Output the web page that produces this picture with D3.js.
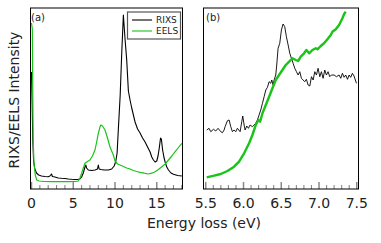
<!DOCTYPE html>
<html><head><meta charset="utf-8">
<script src="https://cdn.jsdelivr.net/npm/d3@7"></script>
<style>body{margin:0;background:#fff}svg{display:block}text{font-family:"DejaVu Sans",sans-serif;fill:#222}</style>
</head><body>
<script>
// Panel (a): [energy loss (eV), intensity (arb.)]
const rixsA = [[0.0,117],[0.08,85],[0.15,50],[0.25,28],[0.4,20],[0.6,16],[0.85,14],[1.2,13],[1.6,12.5],[2.0,12.3],[2.2,13],[2.4,15],[2.5,12.5],[2.8,12],[3.2,11],[3.6,10.7],[4.0,10.5],[4.4,10],[4.8,9.7],[5.2,9.5],[5.5,9.5],[5.8,10],[6.0,12],[6.2,16],[6.4,22],[6.5,24],[6.6,21],[6.8,19],[7.2,18.5],[7.6,19],[7.9,20],[8.0,24],[8.1,20],[8.3,19.5],[8.7,19],[9.2,19],[9.6,20],[9.9,23],[10.1,28],[10.25,36],[10.4,60],[10.62,94],[10.8,135],[11.0,174],[11.2,150],[11.4,129],[11.6,98],[11.8,89],[12.0,81],[12.2,74],[12.4,67],[12.7,60],[13.0,56],[13.3,51],[13.6,47],[13.9,42],[14.2,37],[14.4,32],[14.6,29],[14.8,27],[15.0,28],[15.15,33],[15.3,41],[15.45,51],[15.55,50],[15.7,39],[15.85,32],[16.0,27],[16.2,22],[16.4,19],[16.7,16],[17.0,14.7],[17.5,13.5],[18.0,13]];
const eelsA = [[0.0,166],[0.1,160],[0.15,100],[0.2,50],[0.3,25],[0.45,14],[0.63,9],[0.9,8],[1.5,7.5],[2.5,7.3],[3.5,7.3],[4.5,7.3],[5.3,7.5],[5.6,8],[5.8,11],[6.0,15.7],[6.2,21],[6.4,25.7],[6.7,27.5],[7.0,29],[7.3,33],[7.6,39],[7.8,47],[8.0,55.7],[8.2,62],[8.3,64],[8.5,63],[8.8,59],[9.1,51],[9.4,42],[9.8,34],[10.0,28],[10.3,25],[10.6,24],[11.0,22.5],[11.4,21],[11.8,20],[12.2,18.5],[12.6,17.5],[13.0,16.7],[13.5,15.8],[14.0,15],[14.4,15.8],[14.8,17.3],[15.2,19.5],[15.6,22.3],[16.0,25],[16.4,29],[16.8,33],[17.2,37.3],[17.6,41.5],[18.0,45.7]];
// Panel (b)
const rixsB = [[5.513,59],[5.544,60.7],[5.566,57.3],[5.602,59.7],[5.632,58],[5.663,60.7],[5.699,57.3],[5.721,56.3],[5.743,59],[5.756,62.3],[5.787,68.3],[5.809,69],[5.831,62.3],[5.853,57.3],[5.875,59],[5.897,57.3],[5.919,60.7],[5.955,57.3],[5.977,67.3],[5.99,73],[6.008,64],[6.021,59],[6.043,63],[6.065,60.7],[6.087,64],[6.118,62.3],[6.14,64],[6.162,65.7],[6.184,69],[6.206,74],[6.228,79],[6.251,85.7],[6.273,92.3],[6.295,99],[6.317,101.7],[6.339,107.3],[6.361,105.7],[6.374,109],[6.392,104],[6.405,109],[6.427,114],[6.44,124],[6.458,140.7],[6.48,145.7],[6.502,159],[6.524,165],[6.546,162.3],[6.568,152.3],[6.591,144],[6.613,135.7],[6.635,130.7],[6.657,125.7],[6.679,120.7],[6.701,117.3],[6.723,114],[6.745,117.3],[6.767,110.7],[6.789,109],[6.811,107.3],[6.833,109.7],[6.855,104],[6.878,103],[6.9,112.3],[6.922,109],[6.944,117.3],[6.966,114],[6.988,120.7],[7.01,112.3],[7.032,117.3],[7.054,110.7],[7.076,119],[7.098,114],[7.12,117.3],[7.142,112.3],[7.164,114],[7.2,114],[7.231,112.3],[7.266,114],[7.288,110.7],[7.31,115.7],[7.332,111.7],[7.354,114],[7.377,109.7],[7.399,114],[7.42,111.7],[7.442,115.7],[7.464,113],[7.496,105.7]];
const eelsB = [[5.513,11.7],[5.61,13.3],[5.699,15],[5.787,18],[5.875,22.3],[5.941,27.3],[6.008,35.7],[6.074,45.7],[6.118,54],[6.162,64],[6.198,69],[6.22,67.3],[6.251,75.7],[6.295,84],[6.339,92.3],[6.383,100.7],[6.427,109],[6.471,114],[6.515,119],[6.56,124],[6.604,127.3],[6.648,130.7],[6.692,129],[6.723,128],[6.758,132.3],[6.802,135.7],[6.833,139],[6.869,135.7],[6.913,139],[6.957,140.7],[6.979,139.7],[7.023,143],[7.067,145.7],[7.111,149.7],[7.156,154],[7.178,157.3],[7.222,159.7],[7.266,164],[7.31,170.7],[7.333,175],[7.354,177.3]];
const ticksA = [0,5,10,15];
const ticksB = [5.5,6.0,6.5,7.0,7.5];
const legendLabels = ["RIXS","EELS"];
const colors = {RIXS:"#000", EELS:"#19c419"};

const W=381,H=243;
const svg=d3.select("body").append("svg").attr("width",W).attr("height",H);
const pTop=8,pBottom=189;
const y=d3.scaleLinear().domain([0,181]).range([pBottom,pTop]);

function panel(id,x0,x1,dom,majors,minorStep,series,label,lbx,lby){
  const x=d3.scaleLinear().domain(dom).range([x0,x1]);
  const g=svg.append("g");
  g.append("clipPath").attr("id",id).append("rect").attr("x",x0).attr("y",pTop).attr("width",x1-x0).attr("height",pBottom-pTop);
  const isMajor=d=>majors.some(m=>Math.abs(m-d)<1e-6);
  const minors=d3.range(Math.ceil(dom[0]/minorStep-1e-9),Math.floor(dom[1]/minorStep+1e-9)+1).map(i=>+(i*minorStep).toFixed(4));
  g.selectAll(".mt").data(minors).enter().append("line")
    .attr("x1",d=>x(d)).attr("x2",d=>x(d)).attr("y1",pBottom).attr("y2",d=>isMajor(d)?pBottom-7:pBottom-4)
    .attr("stroke","#8a8a8a").attr("stroke-width",d=>isMajor(d)?1.5:1.1);
  g.selectAll(".tl").data(majors).enter().append("text")
    .attr("x",d=>x(d)).attr("y",208).attr("text-anchor","middle").attr("font-size",14)
    .text(d=>id==="ca"?d3.format("d")(d):d3.format(".1f")(d));
  const line=d3.line().x(d=>x(d[0])).y(d=>y(d[1]));
  const pg=g.append("g").attr("clip-path",`url(#${id})`);
  series.forEach(s=>pg.append("path").datum(s.data).attr("d",line).attr("fill","none")
    .attr("stroke",s.color).attr("stroke-width",s.w).attr("stroke-linejoin","round"));
  g.append("rect").attr("x",x0).attr("y",pTop).attr("width",x1-x0).attr("height",pBottom-pTop)
    .attr("fill","none").attr("stroke","#000").attr("stroke-width",1);
  g.append("text").attr("x",lbx).attr("y",lby).attr("font-size",10).text(label);
  return x;
}
panel("ca",30.5,182.5,[-0.12,18.08],ticksA,1,[
  {data:rixsA,color:colors.RIXS,w:1.1},
  {data:eelsA,color:colors.EELS,w:1.2}],"(a)",31,20.5);
panel("cb",203.5,358.5,[5.47,7.523],ticksB,0.1,[
  {data:rixsB,color:colors.RIXS,w:0.9},
  {data:eelsB,color:colors.EELS,w:2.4}],"(b)",206,21);

// legend
const lg=svg.append("g");
lg.append("rect").attr("x",127.5).attr("y",12).attr("width",53).attr("height",27)
  .attr("fill","#fff").attr("stroke","#555").attr("stroke-width",1.2);
legendLabels.forEach((l,i)=>{
  const yy=20+i*11;
  lg.append("line").attr("x1",132).attr("x2",152).attr("y1",yy).attr("y2",yy).attr("stroke",colors[l]).attr("stroke-width",1.1);
  lg.append("text").attr("x",156).attr("y",yy+3.3).attr("font-size",9).text(l);
});
svg.append("text").attr("x",204).attr("y",228).attr("text-anchor","middle").attr("font-size",14).text("Energy loss (eV)");
svg.append("text").attr("transform","translate(19,100) rotate(-90)").attr("text-anchor","middle").attr("font-size",14).text("RIXS/EELS Intensity");
</script>
</body></html>
